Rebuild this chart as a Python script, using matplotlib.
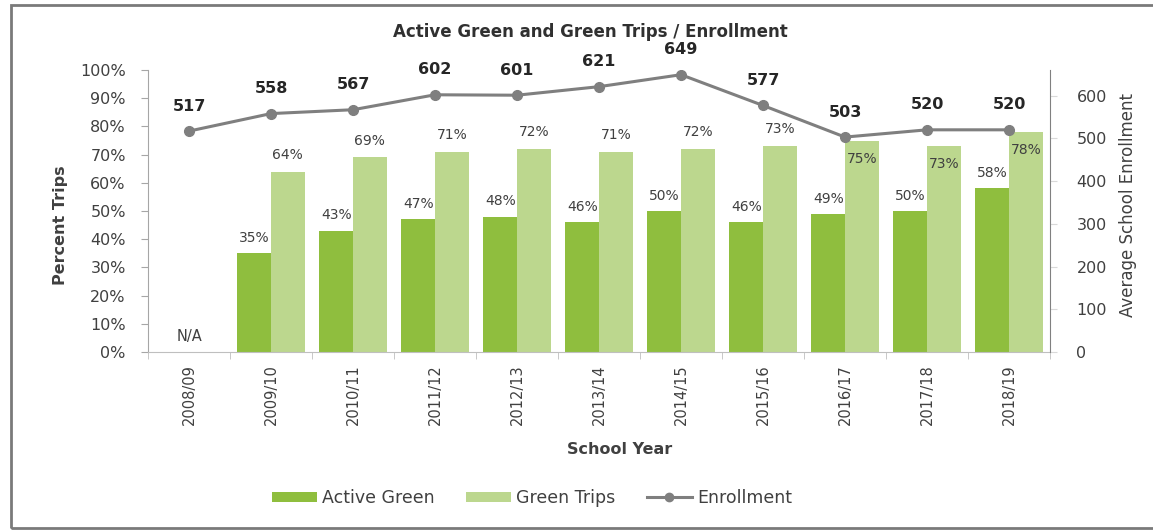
import matplotlib
matplotlib.use("Agg")
import matplotlib.pyplot as plt
import numpy as np
from matplotlib.patches import Rectangle
from matplotlib.lines import Line2D
from matplotlib.patches import Patch

years = ["2008/09", "2009/10", "2010/11", "2011/12", "2012/13", "2013/14",
         "2014/15", "2015/16", "2016/17", "2017/18", "2018/19"]
active_green = [None, 35, 43, 47, 48, 46, 50, 46, 49, 50, 58]
green_trips = [None, 64, 69, 71, 72, 71, 72, 73, 75, 73, 78]
enrollment = [517, 558, 567, 602, 601, 621, 649, 577, 503, 520, 520]
pct_ticks = [0, 10, 20, 30, 40, 50, 60, 70, 80, 90, 100]
enr_ticks = [0, 100, 200, 300, 400, 500, 600]

plt.rcParams['font.family'] = ['DejaVu Sans']
W, H = 1153, 530
fig = plt.figure(figsize=(W / 100, H / 100), dpi=100)
fig.patch.set_facecolor('white')

# outer frame
fig.patches.append(Rectangle((11 / W, 1 - 528 / H), 1.2, (528 - 5) / H,
                             transform=fig.transFigure, fill=False,
                             edgecolor='#7a7a7a', lw=2.0, zorder=0))

x0, x1 = 148, 1050
y0, y1 = 352, 70
ax = fig.add_axes([x0 / W, 1 - y0 / H, (x1 - x0) / W, (y0 - y1) / H])
ax2 = ax.twinx()

dark = '#8fbe3e'
light = '#bcd78e'
text_c = '#404040'

x = np.arange(len(years))
bw = 0.41
ag = np.array([np.nan if v is None else v for v in active_green], dtype=float)
gt = np.array([np.nan if v is None else v for v in green_trips], dtype=float)
ax.bar(x - bw / 2, ag, width=bw, color=dark, zorder=2)
ax.bar(x + bw / 2, gt, width=bw, color=light, zorder=2)

for i in range(len(years)):
    if np.isnan(ag[i]):
        ax.annotate("N/A", (x[i], 0), xytext=(0, 11), textcoords='offset points',
                    ha='center', va='center', fontsize=10.5, color=text_c)
        continue
    ax.annotate(f"{int(ag[i])}%", (x[i] - bw / 2, ag[i]), xytext=(0, 11),
                textcoords='offset points', ha='center', va='center',
                fontsize=10, color=text_c)
    off = 12 if i < 8 else -13
    ax.annotate(f"{int(gt[i])}%", (x[i] + bw / 2, gt[i]), xytext=(0, off),
                textcoords='offset points', ha='center', va='center',
                fontsize=10, color=text_c)

ax.set_xlim(-0.5, len(years) - 0.5)
ax.set_ylim(0, 100)
ax.set_yticks(pct_ticks)
ax.set_yticklabels([f"{t}%" for t in pct_ticks])
ax.set_xticks(x)
ax.set_xticklabels(years, rotation=90, fontsize=10.5, color=text_c)
ax.set_xticks(np.arange(-0.5, len(years), 1), minor=True)
ax.tick_params(axis='x', which='major', length=0, pad=9)
ax.tick_params(axis='x', which='minor', length=5, color='#bfbfbf', direction='out')
ax.tick_params(axis='y', length=5, color='#a6a6a6', labelsize=11.5, labelcolor=text_c, pad=11)

ax2.plot(x, enrollment, color='#7f7f7f', lw=2.2, marker='o', markersize=7,
         markerfacecolor='#7f7f7f', markeredgecolor='#7f7f7f', zorder=5)
for i, v in enumerate(enrollment):
    ax2.annotate(str(v), (x[i], v), xytext=(0, 18), textcoords='offset points',
                 ha='center', va='center', fontsize=11.5, fontweight='bold', color='#262626')
ax2.set_ylim(0, 660)
ax2.set_yticks(enr_ticks)
ax2.tick_params(axis='y', length=5, color='#d9d9d9', labelsize=11.5, labelcolor=text_c, pad=14)

for a in (ax, ax2):
    a.spines['top'].set_visible(False)
    a.set_facecolor('none')
ax.spines['left'].set_color('#a6a6a6')
ax.spines['bottom'].set_color('#bfbfbf')
ax.spines['right'].set_visible(False)
ax2.spines['left'].set_visible(False)
ax2.spines['bottom'].set_visible(False)
ax2.spines['right'].set_color('#808080')
ax.set_zorder(1)
ax2.set_zorder(2)

fig.text(590 / W, 1 - 32 / H, "Active Green and Green Trips / Enrollment",
         ha='center', va='center', fontsize=12, fontweight='bold', color='#303030')
fig.text(60 / W, 1 - 225 / H, "Percent Trips", rotation=90, ha='center', va='center',
         fontsize=11.5, fontweight='bold', color='#404040')
fig.text(1128 / W, 1 - 205 / H, "Average School Enrollment", rotation=90, ha='center',
         va='center', fontsize=12, color='#404040')
fig.text(620 / W, 1 - 450 / H, "School Year", ha='center', va='center',
         fontsize=11.5, fontweight='bold', color='#404040')

handles = [Patch(facecolor=dark, edgecolor='none'),
           Patch(facecolor=light, edgecolor='none'),
           Line2D([0], [0], color='#7f7f7f', lw=2.2, marker='o', markersize=6)]
leg = fig.legend(handles, ["Active Green", "Green Trips", "Enrollment"],
                 loc='center', bbox_to_anchor=(532 / W, 1 - 498 / H), ncol=3,
                 frameon=False, fontsize=12.5, handlelength=2.6, handleheight=0.5,
                 columnspacing=1.8, handletextpad=0.3)
for t in leg.get_texts():
    t.set_color('#404040')

fig.savefig("out.png", dpi=100, facecolor='white')
